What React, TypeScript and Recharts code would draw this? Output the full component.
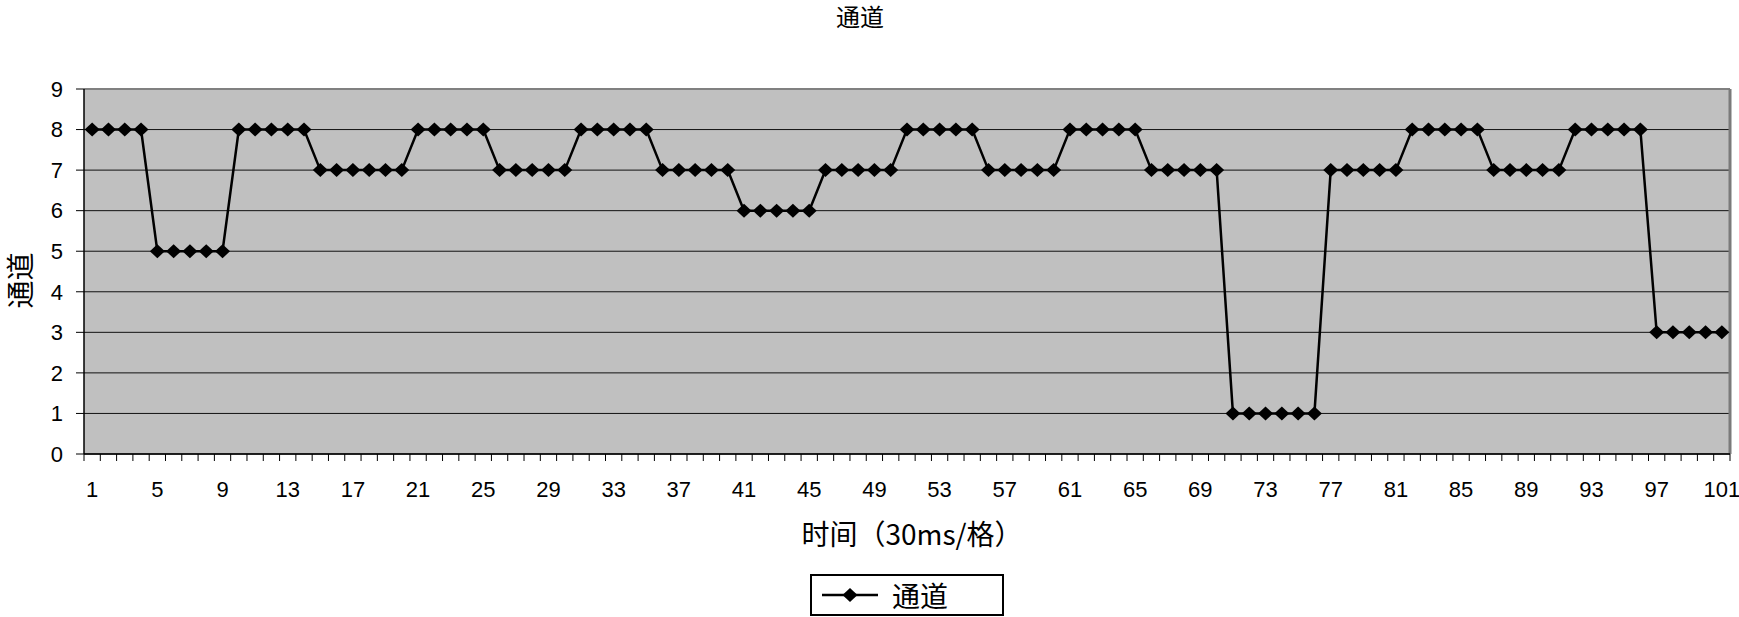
import React from 'react';
import { LineChart, Line, XAxis, YAxis, CartesianGrid, ReferenceLine, Legend } from 'recharts';

const TIME_SLOTS = [
  1, 2, 3, 4, 5, 6, 7, 8, 9, 10, 11, 12, 13, 14, 15, 16, 17, 18, 19, 20,
  21, 22, 23, 24, 25, 26, 27, 28, 29, 30, 31, 32, 33, 34, 35, 36, 37, 38, 39, 40,
  41, 42, 43, 44, 45, 46, 47, 48, 49, 50, 51, 52, 53, 54, 55, 56, 57, 58, 59, 60,
  61, 62, 63, 64, 65, 66, 67, 68, 69, 70, 71, 72, 73, 74, 75, 76, 77, 78, 79, 80,
  81, 82, 83, 84, 85, 86, 87, 88, 89, 90, 91, 92, 93, 94, 95, 96, 97, 98, 99, 100, 101,
];

const CHANNEL = [
  8, 8, 8, 8, 5, 5, 5, 5, 5, 8, 8, 8, 8, 8, 7, 7, 7, 7, 7, 7,
  8, 8, 8, 8, 8, 7, 7, 7, 7, 7, 8, 8, 8, 8, 8, 7, 7, 7, 7, 7,
  6, 6, 6, 6, 6, 7, 7, 7, 7, 7, 8, 8, 8, 8, 8, 7, 7, 7, 7, 7,
  8, 8, 8, 8, 8, 7, 7, 7, 7, 7, 1, 1, 1, 1, 1, 1, 7, 7, 7, 7,
  7, 8, 8, 8, 8, 8, 7, 7, 7, 7, 7, 8, 8, 8, 8, 8, 3, 3, 3, 3, 3,
];

const X_LABELS = [1, 5, 9, 13, 17, 21, 25, 29, 33, 37, 41, 45, 49, 53, 57, 61, 65, 69, 73, 77, 81, 85, 89, 93, 97, 101];
const Y_TICKS = [0, 1, 2, 3, 4, 5, 6, 7, 8, 9];

const TITLE = '通道';
const SERIES_NAME = '通道';
const X_TITLE = '时间（30ms/格）';
const Y_TITLE = '通道';

const data = TIME_SLOTS.map((t, i) => ({ t, v: CHANNEL[i] }));
const boundaries = [TIME_SLOTS[0] - 0.5, ...TIME_SLOTS.map((t) => t + 0.5)];
const xTicks = [...boundaries, ...X_LABELS].sort((a, b) => a - b);

const CJK = '"Noto Sans CJK SC", "Noto Sans", sans-serif';
const LATIN = '"Liberation Sans", Arial, sans-serif';

const XTick = (props: any) => {
  const { x, y, payload } = props;
  const v = payload.value;
  if (Number.isInteger(v)) {
    return (
      <text x={x} y={y + 43} textAnchor="middle" fontSize={22} fontFamily={LATIN} fill="#000">
        {v}
      </text>
    );
  }
  return <line x1={x} y1={y} x2={x} y2={y + 7} stroke="#000" strokeWidth={1} />;
};

const Diamond = (props: any) => {
  const { cx, cy } = props;
  if (cx == null || cy == null) return <g />;
  return <path d={`M${cx},${cy - 7} L${cx + 7.5},${cy} L${cx},${cy + 7} L${cx - 7.5},${cy} Z`} fill="#000" />;
};

const LegendBox = () => (
  <div
    style={{
      width: 194,
      height: 42,
      boxSizing: 'border-box',
      border: '2px solid #000',
      background: '#fff',
      display: 'flex',
      alignItems: 'center',
    }}
  >
    <svg width={66} height={20} style={{ marginLeft: 8, display: 'block' }}>
      <line x1={2} y1={10} x2={58} y2={10} stroke="#000" strokeWidth={2.5} />
      <path d="M30,3 L37.5,10 L30,17 L22.5,10 Z" fill="#000" />
    </svg>
    <span style={{ fontFamily: CJK, fontSize: 28, lineHeight: '30px', marginLeft: 6, color: '#000' }}>{SERIES_NAME}</span>
  </div>
);

export default function App() {
  return (
    <div style={{ position: 'absolute', left: 0, top: 0, width: 1739, height: 617, background: '#fff' }}>
      <div
        style={{
          position: 'absolute',
          left: 0,
          top: 3,
          width: 1720,
          textAlign: 'center',
          fontFamily: CJK,
          fontSize: 24,
          lineHeight: '26px',
          color: '#000',
          zIndex: 2,
        }}
      >
        {TITLE}
      </div>
      <LineChart width={1739} height={617} data={data} margin={{ top: 89, right: 9, left: 0, bottom: 1 }}>
        <CartesianGrid vertical={false} horizontal stroke="#111" strokeWidth={1} fill="#C0C0C0" fillOpacity={1} />
        <XAxis
          dataKey="t"
          type="number"
          domain={[boundaries[0], boundaries[boundaries.length - 1]]}
          ticks={xTicks}
          interval={0}
          tick={<XTick />}
          tickLine={false}
          tickSize={0}
          tickMargin={0}
          height={120}
          axisLine={{ stroke: '#000', strokeWidth: 1.5 }}
          label={{
            content: (p: any) => {
              const vb = p.viewBox || {};
              return (
                <text
                  x={vb.x + vb.width / 2 + 5}
                  y={vb.y + 91}
                  textAnchor="middle"
                  fontFamily={CJK}
                  fontSize={28}
                  fill="#000"
                >
                  {X_TITLE}
                </text>
              );
            },
          }}
        />
        <YAxis
          type="number"
          domain={[0, 9]}
          ticks={Y_TICKS}
          interval={0}
          width={84}
          tickSize={8}
          tickMargin={13}
          tick={{ fontSize: 22, fontFamily: LATIN, fill: '#000' }}
          tickLine={{ stroke: '#000' }}
          axisLine={{ stroke: '#000', strokeWidth: 1.5 }}
          label={{
            content: (p: any) => {
              const vb = p.viewBox || {};
              const cx = 19;
              const cy = vb.y + vb.height / 2 + 9;
              return (
                <text
                  x={cx}
                  y={cy}
                  transform={`rotate(-90 ${cx} ${cy})`}
                  textAnchor="middle"
                  dominantBaseline="central"
                  fontFamily={CJK}
                  fontSize={28}
                  fill="#000"
                >
                  {Y_TITLE}
                </text>
              );
            },
          }}
        />
        <ReferenceLine y={9} stroke="#808080" strokeWidth={2} />
        <ReferenceLine x={boundaries[boundaries.length - 1]} stroke="#7a7a7a" strokeWidth={3} />
        <Line
          dataKey="v"
          name={SERIES_NAME}
          stroke="#000"
          strokeWidth={2.5}
          dot={(p: any) => <Diamond key={`d-${p.index}`} {...p} />}
          activeDot={false}
          isAnimationActive={false}
        />
        <Legend
          verticalAlign="bottom"
          align="center"
          content={<LegendBox />}
          wrapperStyle={{ left: 810, bottom: 1, width: 194, height: 42 }}
        />
      </LineChart>
    </div>
  );
}
